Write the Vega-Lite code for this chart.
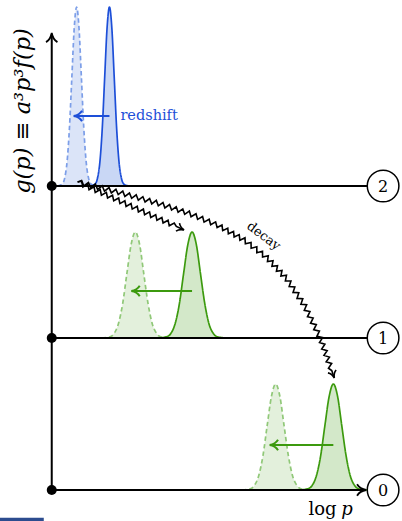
{
"$schema":"https://vega.github.io/schema/vega-lite/v6.json",
"width":402,"height":521,
"autosize":{"type":"fit","contains":"padding"},
"padding":0,
"background":"white",
"config":{"view":{"stroke":null},"font":"DejaVu Serif"},
"datasets":{
"curves":[
{"c":"bd","x":5.8,"y":304,"b":304},{"c":"bd","x":10.6,"y":306,"b":304},{"c":"bd","x":13,"y":311.9,"b":304},{"c":"bd","x":15.4,"y":328.2,"b":304},{"c":"bd","x":17.8,"y":362.1,"b":304},{"c":"bd","x":20.2,"y":412.6,"b":304},{"c":"bd","x":22.6,"y":462,"b":304},{"c":"bd","x":25,"y":483,"b":304},{"c":"bd","x":27.4,"y":462,"b":304},{"c":"bd","x":29.8,"y":412.6,"b":304},{"c":"bd","x":32.2,"y":362.1,"b":304},{"c":"bd","x":34.6,"y":328.2,"b":304},{"c":"bd","x":37,"y":311.9,"b":304},{"c":"bd","x":39.4,"y":306,"b":304},{"c":"bd","x":44.2,"y":304,"b":304},
{"c":"bs","x":38.8,"y":304,"b":304},{"c":"bs","x":43.6,"y":306,"b":304},{"c":"bs","x":46,"y":311.9,"b":304},{"c":"bs","x":48.4,"y":328.2,"b":304},{"c":"bs","x":50.8,"y":362.1,"b":304},{"c":"bs","x":53.2,"y":412.6,"b":304},{"c":"bs","x":55.6,"y":462,"b":304},{"c":"bs","x":58,"y":483,"b":304},{"c":"bs","x":60.4,"y":462,"b":304},{"c":"bs","x":62.8,"y":412.6,"b":304},{"c":"bs","x":65.2,"y":362.1,"b":304},{"c":"bs","x":67.6,"y":328.2,"b":304},{"c":"bs","x":70,"y":311.9,"b":304},{"c":"bs","x":72.4,"y":306,"b":304},{"c":"bs","x":77.2,"y":304,"b":304},
{"c":"g1d","x":50,"y":152,"b":152},{"c":"g1d","x":58.5,"y":153.2,"b":152},{"c":"g1d","x":62.8,"y":156.7,"b":152},{"c":"g1d","x":67,"y":166.3,"b":152},{"c":"g1d","x":71.3,"y":186.4,"b":152},{"c":"g1d","x":75.5,"y":216.3,"b":152},{"c":"g1d","x":79.8,"y":245.5,"b":152},{"c":"g1d","x":84,"y":258,"b":152},{"c":"g1d","x":88.3,"y":245.5,"b":152},{"c":"g1d","x":92.5,"y":216.3,"b":152},{"c":"g1d","x":96.8,"y":186.4,"b":152},{"c":"g1d","x":101,"y":166.3,"b":152},{"c":"g1d","x":105.3,"y":156.7,"b":152},{"c":"g1d","x":109.5,"y":153.2,"b":152},{"c":"g1d","x":118,"y":152,"b":152},
{"c":"g1s","x":107,"y":152,"b":152},{"c":"g1s","x":115.5,"y":153.2,"b":152},{"c":"g1s","x":119.8,"y":156.7,"b":152},{"c":"g1s","x":124,"y":166.3,"b":152},{"c":"g1s","x":128.3,"y":186.4,"b":152},{"c":"g1s","x":132.5,"y":216.3,"b":152},{"c":"g1s","x":136.8,"y":245.5,"b":152},{"c":"g1s","x":141,"y":258,"b":152},{"c":"g1s","x":145.3,"y":245.5,"b":152},{"c":"g1s","x":149.5,"y":216.3,"b":152},{"c":"g1s","x":153.8,"y":186.4,"b":152},{"c":"g1s","x":158,"y":166.3,"b":152},{"c":"g1s","x":162.3,"y":156.7,"b":152},{"c":"g1s","x":166.5,"y":153.2,"b":152},{"c":"g1s","x":175,"y":152,"b":152},
{"c":"g0d","x":191,"y":0,"b":0},{"c":"g0d","x":199.5,"y":1.2,"b":0},{"c":"g0d","x":203.8,"y":4.7,"b":0},{"c":"g0d","x":208,"y":14.3,"b":0},{"c":"g0d","x":212.3,"y":34.4,"b":0},{"c":"g0d","x":216.5,"y":64.3,"b":0},{"c":"g0d","x":220.8,"y":93.5,"b":0},{"c":"g0d","x":225,"y":106,"b":0},{"c":"g0d","x":229.3,"y":93.5,"b":0},{"c":"g0d","x":233.5,"y":64.3,"b":0},{"c":"g0d","x":237.8,"y":34.4,"b":0},{"c":"g0d","x":242,"y":14.3,"b":0},{"c":"g0d","x":246.3,"y":4.7,"b":0},{"c":"g0d","x":250.5,"y":1.2,"b":0},{"c":"g0d","x":259,"y":0,"b":0},
{"c":"g0s","x":249,"y":0,"b":0},{"c":"g0s","x":257.5,"y":1.2,"b":0},{"c":"g0s","x":261.8,"y":4.7,"b":0},{"c":"g0s","x":266,"y":14.3,"b":0},{"c":"g0s","x":270.3,"y":34.4,"b":0},{"c":"g0s","x":274.5,"y":64.3,"b":0},{"c":"g0s","x":278.8,"y":93.5,"b":0},{"c":"g0s","x":283,"y":106,"b":0},{"c":"g0s","x":287.3,"y":93.5,"b":0},{"c":"g0s","x":291.5,"y":64.3,"b":0},{"c":"g0s","x":295.8,"y":34.4,"b":0},{"c":"g0s","x":300,"y":14.3,"b":0},{"c":"g0s","x":304.3,"y":4.7,"b":0},{"c":"g0s","x":308.5,"y":1.2,"b":0},{"c":"g0s","x":317,"y":0,"b":0}
],
"zig":[
{"a":"L","x":26,"y":308},{"a":"L","x":30.0,"y":309.4},{"a":"L","x":32.3,"y":304.0},{"a":"L","x":36.9,"y":307.6},{"a":"L","x":39.2,"y":302.3},{"a":"L","x":43.8,"y":305.9},{"a":"L","x":46.1,"y":300.6},{"a":"L","x":50.7,"y":304.2},{"a":"L","x":53.0,"y":298.8},{"a":"L","x":57.6,"y":302.4},{"a":"L","x":59.9,"y":297.1},{"a":"L","x":64.5,"y":300.7},{"a":"L","x":66.8,"y":295.4},{"a":"L","x":71.4,"y":298.9},{"a":"L","x":73.5,"y":293.5},{"a":"L","x":78.1,"y":297.0},{"a":"L","x":80.3,"y":291.7},{"a":"L","x":84.9,"y":295.2},{"a":"L","x":87.0,"y":289.8},{"a":"L","x":91.6,"y":293.3},{"a":"L","x":93.8,"y":288.0},{"a":"L","x":98.4,"y":291.5},{"a":"L","x":100.5,"y":286.1},{"a":"L","x":105.1,"y":289.6},{"a":"L","x":107.1,"y":284.2},{"a":"L","x":111.8,"y":287.5},{"a":"L","x":113.7,"y":282.0},{"a":"L","x":118.4,"y":285.4},{"a":"L","x":120.4,"y":279.9},{"a":"L","x":125.1,"y":283.2},{"a":"L","x":127.0,"y":277.8},{"a":"L","x":131.7,"y":281.1},{"a":"L","x":133.6,"y":275.7},{"a":"L","x":138.3,"y":279.0},{"a":"L","x":140.0,"y":273.3},{"a":"L","x":145.0,"y":276.2},{"a":"L","x":146.6,"y":270.6},{"a":"L","x":151.6,"y":273.5},{"a":"L","x":153.1,"y":267.9},{"a":"L","x":158.2,"y":270.8},{"a":"L","x":159.7,"y":265.2},{"a":"L","x":164.7,"y":268.1},{"a":"L","x":166.2,"y":262.5},{"a":"L","x":171.1,"y":265.0},{"a":"L","x":171.8,"y":259.4},{"a":"L","x":176.9,"y":261.8},{"a":"L","x":177.5,"y":256.2},{"a":"L","x":182.7,"y":258.6},{"a":"L","x":183.3,"y":253.0},{"a":"L","x":188.4,"y":255.4},{"a":"L","x":189.1,"y":249.8},{"a":"L","x":194.2,"y":252.2},{"a":"L","x":194.6,"y":246.2},{"a":"L","x":200.3,"y":247.6},{"a":"L","x":200.4,"y":241.7},{"a":"L","x":206.1,"y":243.2},{"a":"L","x":206.1,"y":237.3},{"a":"L","x":211.8,"y":238.8},{"a":"L","x":211.9,"y":232.9},{"a":"L","x":217.6,"y":234.3},{"a":"L","x":216.8,"y":228.5},{"a":"L","x":222.4,"y":229.2},{"a":"L","x":221.3,"y":223.7},{"a":"L","x":226.9,"y":224.4},{"a":"L","x":225.8,"y":218.8},{"a":"L","x":231.4,"y":219.5},{"a":"L","x":230.3,"y":214.0},{"a":"L","x":235.9,"y":214.7},{"a":"L","x":234.8,"y":209.1},{"a":"L","x":240.4,"y":209.0},{"a":"L","x":238.6,"y":203.5},{"a":"L","x":244.3,"y":203.1},{"a":"L","x":242.5,"y":197.6},{"a":"L","x":248.3,"y":197.2},{"a":"L","x":246.5,"y":191.6},{"a":"L","x":252.3,"y":191.2},{"a":"L","x":250.4,"y":185.7},{"a":"L","x":256.2,"y":185.3},{"a":"L","x":253.8,"y":179.7},{"a":"L","x":259.5,"y":178.5},{"a":"L","x":257.0,"y":173.2},{"a":"L","x":262.7,"y":172.0},{"a":"L","x":260.1,"y":166.7},{"a":"L","x":265.9,"y":165.4},{"a":"L","x":263.3,"y":160.2},{"a":"L","x":269.0,"y":158.9},{"a":"L","x":266.5,"y":153.7},{"a":"L","x":272.2,"y":152.4},{"a":"L","x":269.1,"y":147.4},{"a":"L","x":274.5,"y":145.8},{"a":"L","x":271.3,"y":141.0},{"a":"L","x":276.8,"y":139.3},{"a":"L","x":273.6,"y":134.6},{"a":"L","x":279.1,"y":132.9},{"a":"L","x":275.8,"y":128.2},{"a":"L","x":281.3,"y":126.5},{"a":"L","x":278.1,"y":121.8},{"a":"L","x":281.4,"y":119.4},{"a":"L","x":283.6,"y":113.0},
{"a":"S","x":26,"y":308},{"a":"S","x":30.0,"y":308.7},{"a":"S","x":31.3,"y":303.1},{"a":"S","x":36.2,"y":305.9},{"a":"S","x":37.5,"y":300.3},{"a":"S","x":42.5,"y":303.2},{"a":"S","x":43.7,"y":297.6},{"a":"S","x":48.7,"y":300.4},{"a":"S","x":49.9,"y":294.8},{"a":"S","x":54.9,"y":297.6},{"a":"S","x":56.1,"y":292.0},{"a":"S","x":61.1,"y":294.8},{"a":"S","x":62.3,"y":289.2},{"a":"S","x":67.3,"y":292.0},{"a":"S","x":68.5,"y":286.4},{"a":"S","x":73.5,"y":289.2},{"a":"S","x":74.7,"y":283.6},{"a":"S","x":79.7,"y":286.5},{"a":"S","x":80.9,"y":280.9},{"a":"S","x":85.9,"y":283.7},{"a":"S","x":87.1,"y":278.1},{"a":"S","x":92.1,"y":280.9},{"a":"S","x":93.3,"y":275.3},{"a":"S","x":98.3,"y":278.1},{"a":"S","x":99.5,"y":272.5},{"a":"S","x":104.5,"y":275.3},{"a":"S","x":105.7,"y":269.7},{"a":"S","x":110.7,"y":272.5},{"a":"S","x":111.9,"y":267.0},{"a":"S","x":116.9,"y":269.8},{"a":"S","x":118.1,"y":264.2},{"a":"S","x":123.1,"y":267.0},{"a":"S","x":125.2,"y":263.5},{"a":"S","x":132.5,"y":260.2}
],
"levels":[{"x":333,"y":304,"n":"2"},{"x":333,"y":152,"n":"1"},{"x":333,"y":0,"n":"0"}]
},
"layer":[
{"data":{"values":[{"x":-52,"x2":-8,"y":-31,"y2":-27.7}]},"mark":{"type":"rect","color":"#2c4c8f"},
 "encoding":{"x":{"field":"x","type":"quantitative","scale":{"domain":[-52,350],"nice":false,"zero":false},"axis":null},"x2":{"field":"x2"},
 "y":{"field":"y","type":"quantitative","scale":{"domain":[-31,490],"nice":false,"zero":false},"axis":null},"y2":{"field":"y2"}}},
{"data":{"name":"curves"},"transform":[{"filter":{"field":"c","oneOf":["bd","g1d","g0d"]}}],
 "mark":{"type":"area","interpolate":"monotone"},
 "encoding":{"x":{"field":"x","type":"quantitative"},"y":{"field":"y","type":"quantitative"},"y2":{"field":"b"},
 "fill":{"field":"c","type":"nominal","legend":null,"scale":{"domain":["bd","bs","g1d","g1s","g0d","g0s"],"range":["#dbe4f8","#c9d7f5","#e3f0dc","#d3e8c9","#e3f0dc","#d3e8c9"]}}}},
{"data":{"name":"curves"},"transform":[{"filter":{"field":"c","oneOf":["bs","g1s","g0s"]}}],
 "mark":{"type":"area","interpolate":"monotone"},
 "encoding":{"x":{"field":"x","type":"quantitative"},"y":{"field":"y","type":"quantitative"},"y2":{"field":"b"},
 "fill":{"field":"c","type":"nominal","legend":null,"scale":{"domain":["bd","bs","g1d","g1s","g0d","g0s"],"range":["#dbe4f8","#c9d7f5","#e3f0dc","#d3e8c9","#e3f0dc","#d3e8c9"]}}}},
{"data":{"name":"curves"},
 "mark":{"type":"line","interpolate":"monotone","strokeWidth":1.7},
 "encoding":{"x":{"field":"x","type":"quantitative"},"y":{"field":"y","type":"quantitative"},"detail":{"field":"c"},
 "stroke":{"field":"c","type":"nominal","legend":null,"scale":{"domain":["bd","bs","g1d","g1s","g0d","g0s"],"range":["#7c9ee8","#1d4fd8","#90c878","#3c9a0e","#90c878","#3c9a0e"]}},
 "strokeDash":{"field":"c","type":"nominal","legend":null,"scale":{"domain":["bd","bs","g1d","g1s","g0d","g0s"],"range":[[4.5,3],[1,0],[4.5,3],[1,0],[4.5,3],[1,0]]}}}},
{"data":{"values":[{"x":0,"x2":0,"y":0,"y2":456},{"x":0,"x2":317,"y":304,"y2":304},{"x":0,"x2":317,"y":152,"y2":152},{"x":0,"x2":315,"y":0,"y2":0}]},
 "mark":{"type":"rule","color":"black","strokeWidth":2},
 "encoding":{"x":{"field":"x","type":"quantitative"},"x2":{"field":"x2"},"y":{"field":"y","type":"quantitative"},"y2":{"field":"y2"}}},
{"data":{"values":[{"c":"bs","x":58,"x2":23,"y":374},{"c":"g1s","x":141,"x2":81,"y":199},{"c":"g0s","x":283,"x2":220,"y":45}]},
 "mark":{"type":"rule","strokeWidth":2.2},
 "encoding":{"x":{"field":"x","type":"quantitative"},"x2":{"field":"x2"},"y":{"field":"y","type":"quantitative"},
 "stroke":{"field":"c","type":"nominal","legend":null,"scale":{"domain":["bd","bs","g1d","g1s","g0d","g0s"],"range":["#7c9ee8","#1d4fd8","#90c878","#3c9a0e","#90c878","#3c9a0e"]}}}},
{"data":{"name":"zig"},
 "mark":{"type":"line","color":"black","strokeWidth":1.6,"strokeJoin":"miter"},
 "encoding":{"x":{"field":"x","type":"quantitative"},"y":{"field":"y","type":"quantitative"},"detail":{"field":"a"},"order":{"value":null}}},
{"data":{"values":[{"x":0,"y":0},{"x":0,"y":152},{"x":0,"y":304}]},
 "mark":{"type":"point","shape":"circle","filled":true,"color":"black","size":100,"opacity":1},
 "encoding":{"x":{"field":"x","type":"quantitative"},"y":{"field":"y","type":"quantitative"}}},
{"data":{"name":"levels"},
 "mark":{"type":"point","shape":"circle","filled":true,"fill":"white","stroke":"black","strokeWidth":1.5,"size":1000,"opacity":1},
 "encoding":{"x":{"field":"x","type":"quantitative"},"y":{"field":"y","type":"quantitative"}}},
{"data":{"name":"levels"},
 "mark":{"type":"text","font":"DejaVu Serif","fontSize":16,"color":"black","align":"center","baseline":"middle","dy":1},
 "encoding":{"x":{"field":"x","type":"quantitative"},"y":{"field":"y","type":"quantitative"},"text":{"field":"n"}}},
{"data":{"values":[{"x":0,"y":457}]},
 "mark":{"type":"point","shape":"M -1.6 -1 C -1.2 -0.35 -0.5 -0.08 0 0 C -0.5 0.08 -1.2 0.35 -1.6 1","filled":false,"color":"black","strokeWidth":1.8,"size":130,"angle":270,"opacity":1},
 "encoding":{"x":{"field":"x","type":"quantitative"},"y":{"field":"y","type":"quantitative"}}},
{"data":{"values":[{"x":316,"y":0}]},
 "mark":{"type":"point","shape":"M -1.6 -1 C -1.2 -0.35 -0.5 -0.08 0 0 C -0.5 0.08 -1.2 0.35 -1.6 1","filled":false,"color":"black","strokeWidth":1.8,"size":130,"angle":0,"opacity":1},
 "encoding":{"x":{"field":"x","type":"quantitative"},"y":{"field":"y","type":"quantitative"}}},
{"data":{"values":[{"c":"bs","x":22,"y":374},{"c":"g1s","x":80,"y":199},{"c":"g0s","x":219,"y":45}]},
 "mark":{"type":"point","shape":"M -1.6 -1 C -1.2 -0.35 -0.5 -0.08 0 0 C -0.5 0.08 -1.2 0.35 -1.6 1","filled":false,"strokeWidth":2,"size":110,"angle":180,"opacity":1},
 "encoding":{"x":{"field":"x","type":"quantitative"},"y":{"field":"y","type":"quantitative"},
 "stroke":{"field":"c","type":"nominal","legend":null,"scale":{"domain":["bd","bs","g1d","g1s","g0d","g0s"],"range":["#7c9ee8","#1d4fd8","#90c878","#3c9a0e","#90c878","#3c9a0e"]}}}},
{"data":{"values":[{"x":133,"y":260}]},
 "mark":{"type":"point","shape":"M -1.6 -1 C -1.2 -0.35 -0.5 -0.08 0 0 C -0.5 0.08 -1.2 0.35 -1.6 1","filled":false,"color":"black","strokeWidth":1.6,"size":75,"angle":24,"opacity":1},
 "encoding":{"x":{"field":"x","type":"quantitative"},"y":{"field":"y","type":"quantitative"}}},
{"data":{"values":[{"x":284,"y":112}]},
 "mark":{"type":"point","shape":"M -1.6 -1 C -1.2 -0.35 -0.5 -0.08 0 0 C -0.5 0.08 -1.2 0.35 -1.6 1","filled":false,"color":"black","strokeWidth":1.6,"size":75,"angle":70.6,"opacity":1},
 "encoding":{"x":{"field":"x","type":"quantitative"},"y":{"field":"y","type":"quantitative"}}},
{"data":{"values":[{"x":69,"y":374,"t":"redshift"}]},
 "mark":{"type":"text","font":"DejaVu Serif","fontSize":14.5,"color":"#1d4fd8","align":"left","baseline":"middle"},
 "encoding":{"x":{"field":"x","type":"quantitative"},"y":{"field":"y","type":"quantitative"},"text":{"field":"t"}}},
{"data":{"values":[{"x":213,"y":254,"t":"decay"}]},
 "mark":{"type":"text","font":"DejaVu Serif","fontSize":13,"color":"black","align":"center","baseline":"middle","angle":37},
 "encoding":{"x":{"field":"x","type":"quantitative"},"y":{"field":"y","type":"quantitative"},"text":{"field":"t"}}},
{"data":{"values":[{"x":-29,"y":379,"t":"g(p) ≡ a³p³f(p)"}]},
 "mark":{"type":"text","font":"DejaVu Serif","fontSize":22.5,"fontStyle":"italic","color":"black","align":"center","baseline":"middle","angle":270},
 "encoding":{"x":{"field":"x","type":"quantitative"},"y":{"field":"y","type":"quantitative"},"text":{"field":"t"}}},
{"data":{"values":[{"x":258,"y":-25,"t":"log"}]},
 "mark":{"type":"text","font":"DejaVu Serif","fontSize":18,"color":"black","align":"left","baseline":"alphabetic"},
 "encoding":{"x":{"field":"x","type":"quantitative"},"y":{"field":"y","type":"quantitative"},"text":{"field":"t"}}},
{"data":{"values":[{"x":291,"y":-25,"t":"p"}]},
 "mark":{"type":"text","font":"DejaVu Serif","fontSize":18,"fontStyle":"italic","color":"black","align":"left","baseline":"alphabetic"},
 "encoding":{"x":{"field":"x","type":"quantitative"},"y":{"field":"y","type":"quantitative"},"text":{"field":"t"}}}
]
}
